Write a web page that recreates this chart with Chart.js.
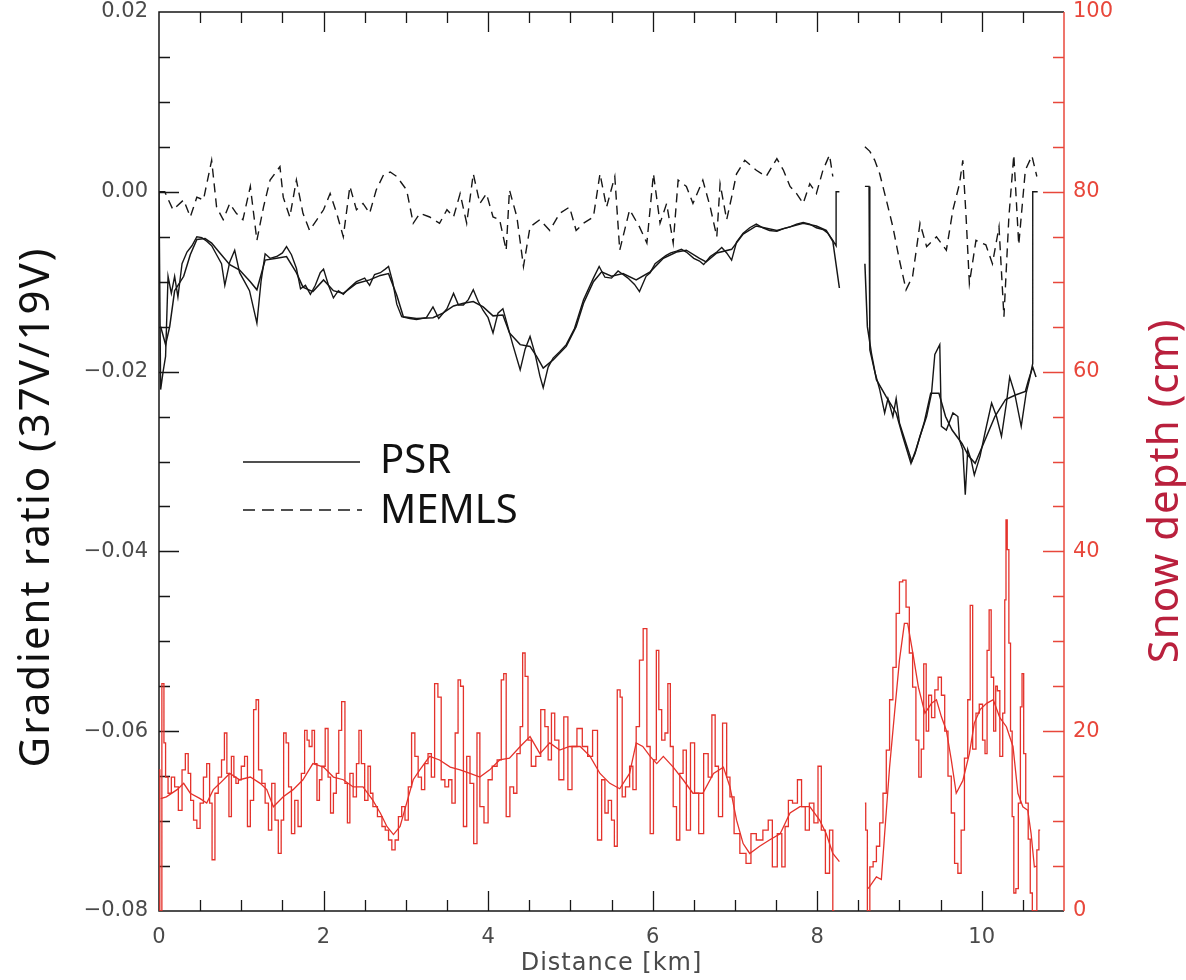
<!DOCTYPE html>
<html>
<head>
<meta charset="utf-8">
<title>Gradient ratio and snow depth along the transect</title>
<script src="https://cdn.jsdelivr.net/npm/chart.js@4.4.1/dist/chart.umd.min.js"></script>
<style>
  html, body { margin: 0; padding: 0; background: #fff; }
  #wrap { width: 1186px; height: 980px; }
</style>
</head>
<body>
<div id="wrap"><canvas id="profileChart" width="1186" height="980"></canvas></div>
<script>
// --- axis ticks ---
const distanceTicks = [0, 2, 4, 6, 8, 10];
const ratioTicks = [-0.08, -0.06, -0.04, -0.02, 0.00, 0.02];
const depthTicks = [0, 20, 40, 60, 80, 100];

// --- PSR gradient ratio, fine resolution (km / GR). null = no data over the gap ---
const psrFineKm = [
  0.00,0.02,0.05,0.08,0.11,0.15,0.19,0.23,0.28,0.34,
  0.40,0.46,0.52,0.58,0.64,0.70,0.76,0.80,0.86,0.92,
  0.98,1.04,1.10,1.15,1.19,1.24,1.29,1.35,1.43,1.50,
  1.55,1.61,1.67,1.72,1.78,1.84,1.90,1.96,2.00,2.06,
  2.12,2.18,2.24,2.30,2.40,2.50,2.56,2.62,2.69,2.75,
  2.79,2.84,2.89,2.95,3.05,3.13,3.25,3.33,3.40,3.50,
  3.58,3.64,3.70,3.76,3.82,3.88,3.94,4.00,4.06,4.12,
  4.18,4.24,4.30,4.39,4.45,4.51,4.57,4.63,4.67,4.73,
  4.79,4.87,4.95,5.05,5.16,5.28,5.35,5.42,5.50,5.58,
  5.64,5.70,5.78,5.84,5.92,5.97,6.03,6.10,6.16,6.22,
  6.29,6.35,6.41,6.50,6.57,6.62,6.70,6.78,6.84,6.90,
  6.96,7.02,7.10,7.18,7.26,7.34,7.42,7.51,7.59,7.67,
  7.75,7.83,7.91,7.99,8.07,8.13,8.19,8.23,8.23,8.27,
  8.42,8.58,8.63,8.64,8.70,8.76,8.82,8.86,8.92,8.96,
  9.00,9.08,9.15,9.19,9.25,9.33,9.39,9.43,9.49,9.51,
  9.57,9.65,9.71,9.73,9.77,9.80,9.83,9.87,9.91,9.98,
  10.04,10.12,10.18,10.24,10.30,10.34,10.40,10.48,10.54,10.58,
  10.62,10.62,10.68
];
const psrFineGr = [
  0.0000,-0.0220,-0.0200,-0.0183,-0.0094,-0.0113,-0.0094,-0.0117,-0.0080,-0.0067,
  -0.0060,-0.0050,-0.0051,-0.0055,-0.0060,-0.0070,-0.0080,-0.0104,-0.0078,-0.0065,
  -0.0090,-0.0100,-0.0110,-0.0130,-0.0146,-0.0100,-0.0069,-0.0074,-0.0072,-0.0068,
  -0.0061,-0.0070,-0.0085,-0.0108,-0.0104,-0.0114,-0.0104,-0.0090,-0.0086,-0.0104,
  -0.0118,-0.0110,-0.0114,-0.0108,-0.0100,-0.0096,-0.0104,-0.0092,-0.0090,-0.0086,
  -0.0083,-0.0100,-0.0125,-0.0139,-0.0141,-0.0142,-0.0140,-0.0128,-0.0141,-0.0130,
  -0.0113,-0.0126,-0.0126,-0.0120,-0.0109,-0.0122,-0.0132,-0.0140,-0.0157,-0.0135,
  -0.0130,-0.0150,-0.0170,-0.0198,-0.0175,-0.0161,-0.0180,-0.0205,-0.0218,-0.0195,
  -0.0185,-0.0178,-0.0170,-0.0152,-0.0120,-0.0096,-0.0083,-0.0095,-0.0096,-0.0088,
  -0.0092,-0.0096,-0.0103,-0.0111,-0.0094,-0.0090,-0.0080,-0.0075,-0.0071,-0.0068,
  -0.0066,-0.0064,-0.0067,-0.0074,-0.0077,-0.0081,-0.0072,-0.0067,-0.0062,-0.0068,
  -0.0076,-0.0056,-0.0046,-0.0040,-0.0036,-0.0040,-0.0043,-0.0044,-0.0041,-0.0039,
  -0.0036,-0.0034,-0.0036,-0.0040,-0.0042,-0.0046,-0.0054,-0.0060,0.0000,0.0000,
  null,0.0006,0.0006,-0.0176,-0.0200,-0.0220,-0.0246,-0.0230,-0.0250,-0.0230,
  -0.0257,-0.0280,-0.0300,-0.0291,-0.0272,-0.0250,-0.0224,-0.0181,-0.0170,-0.0261,
  -0.0265,-0.0246,-0.0250,-0.0276,-0.0287,-0.0337,-0.0287,-0.0298,-0.0315,-0.0294,
  -0.0268,-0.0235,-0.0250,-0.0272,-0.0235,-0.0206,-0.0224,-0.0261,-0.0224,-0.0209,
  -0.0191,0.0000,0.0000
];

// --- PSR gradient ratio, averaged ---
const psrMeanKm = [
  0.02,0.08,0.13,0.19,0.30,0.38,0.46,0.56,0.64,0.74,
  0.86,0.98,1.11,1.19,1.29,1.43,1.55,1.67,1.75,1.87,
  2.00,2.12,2.24,2.40,2.56,2.69,2.79,2.89,2.97,3.13,
  3.33,3.45,3.58,3.70,3.82,3.94,4.06,4.18,4.26,4.39,
  4.51,4.59,4.67,4.79,4.95,5.07,5.16,5.28,5.38,5.50,
  5.64,5.80,5.97,6.13,6.29,6.41,6.57,6.65,6.78,6.96,
  7.10,7.26,7.51,7.67,7.83,7.99,8.11,8.19,8.27,8.42,
  8.58,8.61,8.66,8.72,8.84,8.96,9.04,9.14,9.20,9.30,
  9.38,9.48,9.56,9.64,9.76,9.84,9.92,10.04,10.16,10.29,
  10.41,10.53,10.57,10.62,10.66
];
const psrMeanGr = [
  -0.0150,-0.0170,-0.0150,-0.0110,-0.0094,-0.0070,-0.0053,-0.0052,-0.0057,-0.0068,
  -0.0081,-0.0087,-0.0100,-0.0109,-0.0076,-0.0074,-0.0072,-0.0090,-0.0106,-0.0111,
  -0.0098,-0.0110,-0.0113,-0.0102,-0.0098,-0.0093,-0.0091,-0.0115,-0.0139,-0.0141,
  -0.0140,-0.0135,-0.0127,-0.0124,-0.0122,-0.0128,-0.0138,-0.0137,-0.0157,-0.0170,
  -0.0172,-0.0183,-0.0196,-0.0187,-0.0172,-0.0150,-0.0124,-0.0100,-0.0089,-0.0094,
  -0.0091,-0.0098,-0.0089,-0.0074,-0.0067,-0.0065,-0.0074,-0.0078,-0.0068,-0.0064,
  -0.0047,-0.0038,-0.0043,-0.0039,-0.0035,-0.0038,-0.0043,-0.0055,-0.0107,null,
  -0.0080,-0.0150,-0.0180,-0.0209,-0.0228,-0.0246,-0.0272,-0.0302,-0.0287,-0.0257,
  -0.0224,-0.0224,-0.0250,-0.0265,-0.0280,-0.0294,-0.0302,-0.0276,-0.0250,-0.0231,
  -0.0226,-0.0222,-0.0209,-0.0195,-0.0206
];

// --- MEMLS simulated gradient ratio ---
const memlsKm = [
  0.00,0.07,0.17,0.30,0.38,0.46,0.54,0.64,0.70,0.78,
  0.86,0.94,1.02,1.11,1.19,1.27,1.35,1.47,1.51,1.59,
  1.67,1.75,1.83,1.92,2.00,2.08,2.16,2.24,2.32,2.40,
  2.48,2.56,2.64,2.73,2.81,2.89,3.01,3.09,3.17,3.29,
  3.41,3.50,3.58,3.66,3.74,3.82,3.90,3.98,4.06,4.14,
  4.22,4.26,4.35,4.43,4.51,4.63,4.75,4.87,4.99,5.07,
  5.16,5.28,5.36,5.44,5.54,5.60,5.72,5.84,5.93,6.01,
  6.09,6.17,6.25,6.31,6.41,6.49,6.61,6.70,6.78,6.82,
  6.90,6.96,7.02,7.12,7.26,7.38,7.51,7.59,7.67,7.75,
  7.83,7.91,7.99,8.07,8.15,8.19,8.40,8.58,8.64,8.70,
  8.76,8.84,8.92,9.00,9.08,9.16,9.25,9.33,9.45,9.57,
  9.65,9.73,9.77,9.81,9.85,9.93,10.05,10.13,10.21,10.27,
  10.33,10.39,10.45,10.53,10.61,10.67
];
const memlsGr = [
  0.0000,0.0000,-0.0020,-0.0009,-0.0028,-0.0006,-0.0009,0.0035,-0.0017,-0.0031,
  -0.0013,-0.0024,-0.0031,0.0006,-0.0054,-0.0017,0.0013,0.0028,-0.0006,-0.0028,
  0.0013,-0.0024,-0.0043,-0.0031,-0.0020,-0.0002,-0.0024,-0.0050,0.0006,-0.0020,
  -0.0013,-0.0024,0.0002,0.0019,0.0022,0.0017,0.0002,-0.0035,-0.0024,-0.0028,
  -0.0035,-0.0020,-0.0028,-0.0002,-0.0035,0.0020,-0.0013,-0.0002,-0.0028,-0.0031,
  -0.0065,0.0002,-0.0028,-0.0083,-0.0039,-0.0031,-0.0043,-0.0024,-0.0017,-0.0043,
  -0.0035,-0.0028,0.0020,-0.0017,0.0017,-0.0065,-0.0020,-0.0039,-0.0057,0.0020,
  -0.0035,-0.0013,-0.0057,0.0013,0.0006,-0.0013,0.0013,-0.0017,-0.0050,0.0009,
  -0.0031,-0.0006,0.0020,0.0035,0.0024,0.0017,0.0037,0.0024,0.0006,-0.0002,
  -0.0013,0.0009,-0.0002,0.0024,0.0041,0.0017,null,0.0050,0.0045,0.0035,
  0.0020,-0.0009,-0.0039,-0.0076,-0.0109,-0.0094,-0.0035,-0.0061,-0.0050,-0.0065,
  -0.0020,0.0009,0.0035,-0.0028,-0.0102,-0.0054,-0.0059,-0.0080,-0.0039,-0.0139,
  -0.0028,0.0041,-0.0059,0.0024,0.0040,0.0017
];

// --- snow depth, running mean (cm) ---
const snowMeanKm = [
  0.02,0.09,0.22,0.30,0.38,0.50,0.58,0.66,0.74,0.86,
  0.98,1.11,1.23,1.31,1.39,1.51,1.63,1.75,1.87,2.00,
  2.12,2.24,2.36,2.48,2.60,2.69,2.77,2.85,2.93,3.01,
  3.09,3.17,3.29,3.41,3.54,3.66,3.78,3.90,4.02,4.14,
  4.26,4.39,4.51,4.63,4.75,4.87,4.99,5.12,5.24,5.36,
  5.48,5.60,5.72,5.80,5.88,5.97,6.05,6.13,6.25,6.37,
  6.49,6.61,6.74,6.86,6.94,7.02,7.10,7.18,7.30,7.42,
  7.55,7.67,7.79,7.91,8.03,8.11,8.19,8.27,8.44,8.62,
  8.72,8.78,8.82,8.88,8.94,9.00,9.06,9.10,9.17,9.23,
  9.31,9.39,9.45,9.51,9.57,9.63,9.69,9.77,9.85,9.91,
  9.98,10.06,10.14,10.22,10.30,10.38,10.44,10.50,10.56,10.60,
  10.64,10.67
];
const snowMeanCm = [
  12.5,12.7,13.5,14.2,13.1,12.5,12.0,13.5,14.2,15.3,
  14.6,14.9,14.2,13.5,11.6,12.7,13.5,14.6,16.4,16.0,
  14.9,14.6,13.8,13.8,12.3,10.9,9.4,8.5,9.4,12.0,
  14.6,15.7,17.2,16.8,16.0,15.7,15.3,14.9,15.7,16.8,
  17.0,18.3,19.4,17.5,18.7,17.9,18.3,18.3,17.2,15.3,
  14.2,13.6,15.3,18.7,18.3,17.2,16.4,17.2,16.0,14.6,
  13.1,13.1,15.3,16.0,13.8,10.1,7.5,6.4,7.2,7.9,
  8.6,10.9,11.6,11.6,10.1,8.6,6.4,5.5,null,2.5,
  3.8,3.5,8.6,16.0,22.0,27.9,32.0,32.0,28.3,24.9,
  22.0,23.1,23.5,21.6,20.1,16.8,13.1,14.5,17.5,20.9,
  22.4,23.1,23.5,21.5,20.5,18.3,13.1,11.6,11.2,8.6,
  4.9,5.0
];

// --- snow depth, individual probe readings (cm) ---
const snowProbeKm = [
  0.00,0.02,0.05,0.07,0.09,0.13,0.17,0.21,0.26,0.30,
  0.34,0.37,0.40,0.44,0.48,0.52,0.56,0.60,0.63,0.66,
  0.70,0.74,0.78,0.81,0.84,0.86,0.90,0.92,0.95,0.98,
  1.02,1.06,1.09,1.13,1.17,1.19,1.23,1.27,1.31,1.35,
  1.39,1.43,1.47,1.50,1.53,1.56,1.59,1.63,1.67,1.71,
  1.75,1.79,1.81,1.84,1.88,1.90,1.94,1.96,2.00,2.04,
  2.07,2.10,2.14,2.17,2.20,2.24,2.28,2.30,2.34,2.38,
  2.42,2.44,2.48,2.52,2.56,2.58,2.62,2.69,2.73,2.77,
  2.81,2.85,2.89,2.93,2.97,3.01,3.05,3.09,3.13,3.17,
  3.21,3.25,3.29,3.33,3.37,3.41,3.45,3.50,3.54,3.58,
  3.62,3.65,3.68,3.72,3.76,3.80,3.85,3.88,3.92,3.98,
  4.02,4.08,4.14,4.18,4.20,4.24,4.29,4.33,4.37,4.41,
  4.43,4.47,4.50,4.55,4.61,4.67,4.71,4.75,4.79,4.83,
  4.89,4.95,4.99,5.05,5.11,5.18,5.24,5.30,5.36,5.40,
  5.44,5.48,5.52,5.55,5.59,5.62,5.64,5.70,5.74,5.78,
  5.82,5.86,5.91,5.95,5.99,6.03,6.06,6.09,6.13,6.17,
  6.20,6.23,6.27,6.31,6.35,6.39,6.43,6.49,6.53,6.59,
  6.65,6.70,6.74,6.78,6.82,6.88,6.92,6.96,7.02,7.10,
  7.17,7.22,7.30,7.38,7.43,7.48,7.55,7.59,7.63,7.67,
  7.73,7.79,7.83,7.88,7.93,7.99,8.03,8.07,8.13,8.17,
  8.21,8.40,8.58,8.60,8.62,8.66,8.70,8.74,8.78,8.82,
  8.86,8.90,8.94,8.98,9.02,9.06,9.10,9.14,9.18,9.22,
  9.25,9.28,9.31,9.34,9.37,9.41,9.45,9.49,9.53,9.57,
  9.61,9.65,9.69,9.73,9.77,9.81,9.85,9.87,9.91,9.95,
  9.99,10.03,10.05,10.08,10.10,10.13,10.16,10.18,10.20,10.24,
  10.27,10.29,10.30,10.32,10.34,10.36,10.38,10.40,10.43,10.46,
  10.48,10.50,10.52,10.55,10.58,10.60,10.63,10.66,10.68,10.71
];
const snowProbeCm = [
  15.7,0.0,25.3,18.7,14.9,13.1,14.9,13.8,11.2,15.7,
  17.5,15.3,12.3,10.1,9.2,12.0,14.9,16.4,12.0,5.7,
  13.1,14.9,16.8,19.8,15.3,10.5,17.2,14.9,14.2,14.6,
  16.1,17.2,9.4,12.3,22.4,23.5,15.7,14.2,12.0,9.0,
  14.2,10.1,6.4,10.1,19.8,18.7,13.8,8.6,12.3,9.4,
  15.3,20.1,19.0,18.3,20.1,16.4,12.3,14.6,16.1,20.3,
  14.9,10.9,13.1,15.3,20.1,23.3,14.2,9.8,15.3,12.7,
  16.4,20.1,16.4,12.3,16.1,13.1,11.6,10.5,9.4,9.0,
  7.9,6.8,7.9,10.5,11.6,10.1,13.8,19.8,17.2,14.9,
  13.5,16.4,17.5,14.9,25.3,23.8,14.6,13.8,14.6,12.0,
  19.8,25.7,25.0,9.4,17.2,14.2,7.5,19.8,11.6,9.8,
  14.6,16.1,16.8,25.7,26.4,10.5,13.8,13.1,17.5,20.5,
  28.7,26.1,19.0,16.1,17.2,22.4,20.5,16.8,22.0,19.0,
  14.6,21.6,13.5,18.3,20.3,18.3,17.2,20.1,7.9,14.6,
  10.9,12.3,10.1,7.2,24.6,23.8,12.7,13.8,16.1,13.5,
  20.5,27.9,31.4,18.3,8.6,16.8,29.0,22.4,19.0,19.8,
  25.3,18.3,11.6,7.9,15.3,17.9,9.0,18.7,13.1,8.6,
  17.5,14.9,21.8,16.1,10.5,20.9,14.9,12.7,8.6,6.4,
  5.3,8.6,7.9,9.0,10.1,4.9,8.6,4.9,9.4,12.3,
  12.0,14.6,11.6,9.0,12.0,9.8,16.1,9.0,4.2,9.0,
  0.0,null,12.0,9.0,0.0,4.9,5.5,7.2,9.8,13.1,
  17.9,23.5,27.1,33.1,36.6,36.8,33.8,28.7,24.9,19.0,
  14.9,18.0,27.5,20.0,24.0,21.5,24.6,26.0,24.0,20.0,
  15.0,10.9,5.3,4.2,9.0,17.0,23.5,34.0,18.0,22.0,
  23.0,19.0,17.5,29.0,33.5,26.0,20.0,25.0,24.5,17.2,
  22.0,34.6,43.5,40.2,29.8,20.0,10.5,2.0,2.5,12.0,
  22.7,26.4,17.5,12.0,8.0,2.0,0.0,0.0,6.8,9.0
];

const RED = '#e4322b';
const AXIS_RED = '#e8473b';
const INK = '#161616';
const LABEL_GREY = '#4a4a4a';
const tickFont = { family: '"DejaVu Sans", sans-serif', size: 21 };

function toPoints(xs, ys) {
  return xs.map((x, i) => ({ x: x, y: ys[i] }));
}

function fmtRatio(v) {
  if (Math.abs(v) < 1e-9) return '0.00';
  return (v < 0 ? '\u2212' : '') + Math.abs(v).toFixed(2);
}

// frame + inward tick marks, drawn under the data
const frameTicks = {
  id: 'frameTicks',
  beforeDatasetsDraw(chart) {
    const { ctx, chartArea: a, scales } = chart;
    const xs = scales.x, gr = scales.gr, sd = scales.snow;
    ctx.save();
    ctx.lineWidth = 1.5;
    ctx.strokeStyle = INK;
    ctx.beginPath();
    ctx.moveTo(a.right, a.top);
    ctx.lineTo(a.left, a.top);
    ctx.lineTo(a.left, a.bottom);
    ctx.lineTo(a.right, a.bottom);
    ctx.stroke();

    ctx.lineWidth = 1.3;
    ctx.beginPath();
    // distance ticks every 0.5 km, top and bottom
    for (let i = 1; i < 22; i++) {
      const px = Math.round(xs.getPixelForValue(i * 0.5)) + 0.5;
      const len = i % 4 === 0 ? 20 : 11;
      ctx.moveTo(px, a.bottom); ctx.lineTo(px, a.bottom - len);
      ctx.moveTo(px, a.top); ctx.lineTo(px, a.top + len);
    }
    // gradient ratio ticks every 0.005
    for (let i = 1; i < 20; i++) {
      const py = Math.round(gr.getPixelForValue(-0.08 + i * 0.005)) + 0.5;
      const len = i % 4 === 0 ? 20 : 11;
      ctx.moveTo(a.left, py); ctx.lineTo(a.left + len, py);
    }
    ctx.stroke();

    // snow depth axis in red, ticks every 5 cm
    ctx.strokeStyle = AXIS_RED;
    ctx.lineWidth = 1.5;
    ctx.beginPath();
    ctx.moveTo(a.right, a.top);
    ctx.lineTo(a.right, a.bottom);
    ctx.stroke();
    ctx.lineWidth = 1.3;
    ctx.beginPath();
    for (let i = 1; i < 20; i++) {
      const py = Math.round(sd.getPixelForValue(i * 5)) + 0.5;
      const len = i % 4 === 0 ? 21 : 11;
      ctx.moveTo(a.right, py); ctx.lineTo(a.right - len, py);
    }
    ctx.stroke();
    ctx.restore();
  }
};

// axis titles and the in-plot key
const captions = {
  id: 'captions',
  afterDraw(chart) {
    const { ctx, chartArea: a } = chart;
    ctx.save();
    ctx.textBaseline = 'middle';

    ctx.fillStyle = LABEL_GREY;
    ctx.font = '24px "DejaVu Sans", sans-serif';
    ctx.letterSpacing = '1px';
    ctx.textAlign = 'center';
    ctx.fillText('Distance [km]', (a.left + a.right) / 2, 964);

    ctx.save();
    ctx.translate(37, 507);
    ctx.rotate(-Math.PI / 2);
    ctx.fillStyle = '#111';
    ctx.font = '42px "Noto Sans", sans-serif';
    ctx.letterSpacing = '2px';
    ctx.fillText('Gradient ratio (37V/19V)', 0, 0);
    ctx.restore();

    ctx.save();
    ctx.translate(1166, 491);
    ctx.rotate(-Math.PI / 2);
    ctx.fillStyle = '#b9203d';
    ctx.font = '42px "Noto Sans", sans-serif';
    ctx.letterSpacing = '1px';
    ctx.fillText('Snow depth (cm)', 0, 0);
    ctx.restore();

    // key
    ctx.letterSpacing = '0px';
    ctx.strokeStyle = INK;
    ctx.lineWidth = 1.5;
    ctx.beginPath();
    ctx.moveTo(243, 462); ctx.lineTo(360, 462);
    ctx.stroke();
    ctx.setLineDash([12, 7]);
    ctx.beginPath();
    ctx.moveTo(243, 510); ctx.lineTo(362, 510);
    ctx.stroke();
    ctx.setLineDash([]);
    ctx.fillStyle = '#111';
    ctx.textAlign = 'left';
    ctx.font = '40px "Noto Sans", sans-serif';
    ctx.fillText('PSR', 380, 462);
    ctx.fillText('MEMLS', 380, 512);
    ctx.restore();
  }
};

new Chart(document.getElementById('profileChart'), {
  type: 'line',
  data: {
    datasets: [
      {
        label: 'Snow depth (running mean)',
        data: toPoints(snowMeanKm, snowMeanCm),
        yAxisID: 'snow',
        borderColor: RED,
        borderWidth: 1.3
      },
      {
        label: 'Snow depth (probe)',
        data: toPoints(snowProbeKm, snowProbeCm),
        yAxisID: 'snow',
        borderColor: RED,
        borderWidth: 1.3,
        stepped: 'middle'
      },
      {
        label: 'PSR (mean)',
        data: toPoints(psrMeanKm, psrMeanGr),
        yAxisID: 'gr',
        borderColor: INK,
        borderWidth: 1.5
      },
      {
        label: 'PSR',
        data: toPoints(psrFineKm, psrFineGr),
        yAxisID: 'gr',
        borderColor: INK,
        borderWidth: 1.4
      },
      {
        label: 'MEMLS',
        data: toPoints(memlsKm, memlsGr),
        yAxisID: 'gr',
        borderColor: INK,
        borderWidth: 1.4,
        borderDash: [9, 6]
      }
    ]
  },
  options: {
    responsive: false,
    animation: false,
    devicePixelRatio: 1,
    spanGaps: false,
    layout: { padding: { top: 12, left: 0, right: 0, bottom: 0 } },
    elements: {
      point: { radius: 0 },
      line: { tension: 0, fill: false }
    },
    plugins: {
      legend: { display: false },
      tooltip: { enabled: false }
    },
    scales: {
      x: {
        type: 'linear',
        position: 'bottom',
        min: 0,
        max: 11,
        grid: { display: false, drawTicks: false },
        border: { display: false },
        afterBuildTicks: s => { s.ticks = distanceTicks.map(v => ({ value: v })); },
        ticks: {
          padding: 14,
          color: LABEL_GREY,
          font: tickFont,
          maxRotation: 0,
          autoSkip: false,
          callback: v => String(v)
        },
        afterFit: s => { s.height = 69; s.paddingLeft = 0; s.paddingRight = 0; }
      },
      gr: {
        type: 'linear',
        position: 'left',
        min: -0.08,
        max: 0.02,
        grid: { display: false, drawTicks: false },
        border: { display: false },
        afterBuildTicks: s => { s.ticks = ratioTicks.map(v => ({ value: v })); },
        ticks: {
          padding: 11,
          color: LABEL_GREY,
          font: tickFont,
          autoSkip: false,
          callback: v => fmtRatio(v)
        },
        afterFit: s => { s.width = 159; s.paddingTop = 0; s.paddingBottom = 0; }
      },
      snow: {
        type: 'linear',
        position: 'right',
        min: 0,
        max: 100,
        grid: { display: false, drawTicks: false },
        border: { display: false },
        afterBuildTicks: s => { s.ticks = depthTicks.map(v => ({ value: v })); },
        ticks: {
          padding: 9,
          color: AXIS_RED,
          font: tickFont,
          autoSkip: false,
          callback: v => String(v)
        },
        afterFit: s => { s.width = 122; s.paddingTop = 0; s.paddingBottom = 0; }
      }
    }
  },
  plugins: [frameTicks, captions]
});
</script>
</body>
</html>
